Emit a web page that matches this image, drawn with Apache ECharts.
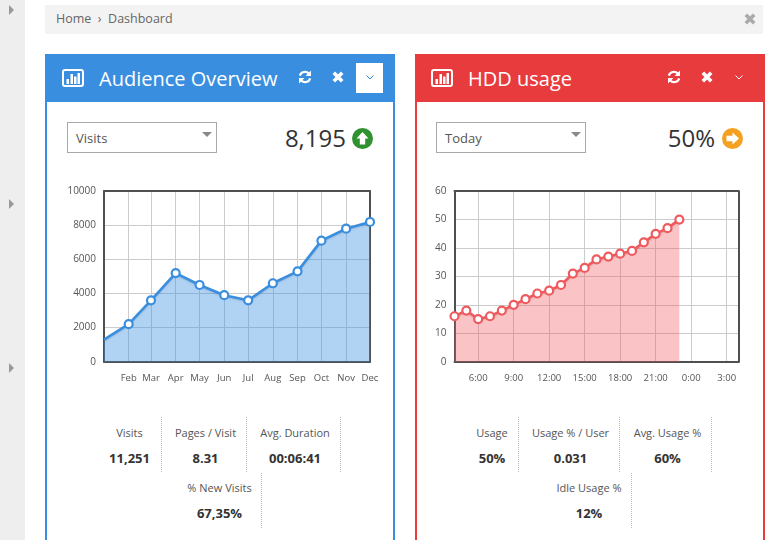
<!DOCTYPE html>
<html><head><meta charset="utf-8">
<script src="https://cdn.jsdelivr.net/npm/echarts@6/dist/echarts.min.js"></script>
<style>
html,body{margin:0;padding:0;width:782px;height:540px;overflow:hidden;background:#fff;font-family:"Open Sans",sans-serif;color:#444}
.a{position:absolute;white-space:nowrap}
.panel{position:absolute;top:54px;width:346px;height:500px;border:2px solid}
.head{position:absolute;top:54px;width:350px;height:48px}
.title{position:absolute;top:65px;font-size:20px;line-height:28px;color:#fff}
.sel{position:absolute;top:122px;width:148px;height:29px;border:1px solid #a9a9a9;font-size:13px;line-height:31px;color:#555;text-indent:8px}
.tri{position:absolute;top:132px;width:0;height:0;border-left:5px solid transparent;border-right:5px solid transparent;border-top:5px solid #888}
.big{position:absolute;top:121px;font-size:24px;line-height:34px;color:#333;text-align:right}
.lab{font-size:11px;line-height:16px;color:#555;transform:translateX(-50%)}
.val{font-size:13px;line-height:18px;font-weight:700;color:#333;transform:translateX(-50%)}
.dot{position:absolute;width:0;border-left:1px dotted #bbb}
.chart{position:absolute;top:180px;width:330px;height:210px}
svg{position:absolute;overflow:visible}
</style></head><body>
<div class="a" style="left:0;top:0;width:25px;height:540px;background:#eee"></div>
<div class="a" style="left:45px;top:5px;width:718px;height:29px;background:#f3f3f3"></div>
<div class="a" style="left:56px;top:10px;font-size:12.5px;line-height:18px;color:#666">Home&nbsp;&nbsp;›&nbsp;&nbsp;Dashboard</div>
<div id="chrome"></div>
<div id="c1" class="chart" style="left:60px"></div>
<div id="c2" class="chart" style="left:430px"></div>
<script>
// Audience Overview data
const visitDates = ['2023-01-01','2023-02-01','2023-03-01','2023-04-01','2023-05-01','2023-06-01','2023-07-01','2023-08-01','2023-09-01','2023-10-01','2023-11-01','2023-12-01'];
const visitValues = [1300,2200,3600,5200,4500,3900,3600,4600,5300,7100,7800,8195];
const monthLabels = ['','Feb','Mar','Apr','May','Jun','Jul','Aug','Sep','Oct','Nov','Dec'];
// HDD usage data
const usageHours = [4,5,6,7,8,9,10,11,12,13,14,15,16,17,18,19,20,21,22,23];
const usageValues = [16,18,15,16,18,20,22,24,25,27,31,33,36,37,38,39,42,45,47,50];
const hourTicks = [6,9,12,15,18,21,24,27];
// Summary stats
const audienceStats = [['Visits','11,251',129.5,433],['Pages / Visit','8.31',205.5,433],['Avg. Duration','00:06:41',295,433],['% New Visits','67,35%',219.5,488]];
const usageStats = [['Usage','50%',492,433],['Usage % / User','0.031',570.5,433],['Avg. Usage %','60%',667.5,433],['Idle Usage %','12%',589,488]];

const BLUE='#3a8ee0', RED='#e83b3d';
let h='';
const add=s=>h+=s;
function icon(x,c){return `<svg style="left:${x}px;top:69px" width="22" height="18" viewBox="0 0 22 18"><rect x="1" y="1" width="20" height="16" rx="2" fill="none" stroke="#fff" stroke-width="2"/><rect x="4.5" y="10" width="2.5" height="5" fill="#fff"/><rect x="8.5" y="5" width="2.5" height="10" fill="#fff"/><rect x="12" y="7.5" width="2.5" height="7.5" fill="#fff"/><rect x="15.5" y="4" width="2.5" height="11" fill="#fff"/></svg>`}
function refresh(x){return `<svg style="left:${x-7}px;top:70px" width="14" height="14" viewBox="0 0 14 14"><path d="M1.8 5.6A5.3 5.3 0 0 1 10.8 3.6" fill="none" stroke="#fff" stroke-width="2.2"/><path d="M13 0.6V6H7.6Z" fill="#fff"/><path d="M12.2 8.4A5.3 5.3 0 0 1 3.2 10.4" fill="none" stroke="#fff" stroke-width="2.2"/><path d="M1 13.4V8H6.4Z" fill="#fff"/></svg>`}
function cross(x,y,col,s){s=s||4;return `<svg style="left:${x-s}px;top:${y-s}px" width="${2*s}" height="${2*s}" viewBox="0 0 8 8"><path d="M1.2 1.2L6.8 6.8M6.8 1.2L1.2 6.8" stroke="${col}" stroke-width="2.4"/></svg>`}
function chev(x,col){return `<svg style="left:${x-4}px;top:75px" width="8" height="5" viewBox="0 0 8 5"><path d="M0.5 0.5L4 4L7.5 0.5" fill="none" stroke="${col}" stroke-width="1"/></svg>`}
function arrowUp(x){return `<svg style="left:${x-10.5}px;top:128px" width="21" height="21" viewBox="0 0 21 21"><circle cx="10.5" cy="10.5" r="10.5" fill="#2f9130"/><path d="M10.5 4L16.5 10.5H13.2V16.5H7.8V10.5H4.5Z" fill="#fff"/></svg>`}
function arrowRight(x){return `<svg style="left:${x-10.5}px;top:128px" width="21" height="21" viewBox="0 0 21 21"><circle cx="10.5" cy="10.5" r="10.5" fill="#f4a122"/><path d="M17 10.5L10.5 16.5V13.2H4.5V7.8H10.5V4.5Z" fill="#fff"/></svg>`}
[10,204,368].forEach(y=>add(`<div class="a" style="left:9px;top:${y-5}px;width:0;height:0;border-top:5px solid transparent;border-bottom:5px solid transparent;border-left:5px solid #999"></div>`));
add(cross(750,19,'#aaa',6));
add(`<div class="panel" style="left:45px;border-color:${BLUE}"></div><div class="head" style="left:45px;background:${BLUE}"></div>`);
add(`<div class="panel" style="left:415px;border-color:${RED}"></div><div class="head" style="left:415px;background:${RED}"></div>`);
add(icon(62)+`<div class="title" style="left:99px">Audience Overview</div>`+refresh(305)+cross(338,77,'#fff',6));
add(`<div class="a" style="left:356px;top:63px;width:27px;height:30px;background:#fff"></div>`+chev(369.5,BLUE));
add(icon(431)+`<div class="title" style="left:468px">HDD usage</div>`+refresh(674)+cross(707,77,'#fff',6)+chev(738.5,'#fff'));
add(`<div class="sel" style="left:67px">Visits</div><div class="tri" style="left:202px"></div>`);
add(`<div class="sel" style="left:436px">Today</div><div class="tri" style="left:571px"></div>`);
add(`<div class="big" style="right:436px">8,195</div>`+arrowUp(362.5));
add(`<div class="big" style="right:67px">50%</div>`+arrowRight(732));
[...audienceStats,...usageStats].forEach(s=>{
  add(`<div class="a lab" style="left:${s[2]}px;top:${s[3]-8}px">${s[0]}</div>`);
  add(`<div class="a val" style="left:${s[2]}px;top:${s[3]+16}px">${s[1]}</div>`);
});
[[161,417],[246,417],[340,417],[261,473],[518,417],[619,417],[711,417],[631,473]].forEach(d=>add(`<div class="dot" style="left:${d[0]}px;top:${d[1]}px;height:55px"></div>`));
document.getElementById('chrome').innerHTML=h;

const axisText={color:'#555',fontSize:10,fontFamily:'"Open Sans",sans-serif'};
const split={show:true,lineStyle:{color:'#cccccc',width:1}};
const frame={show:true,onZero:false,lineStyle:{color:'#505050',width:2}};
function series(data,color,area){return {type:'line',data,smooth:false,symbol:'circle',symbolSize:8,showSymbol:true,clip:false,
  lineStyle:{color,width:2.6,shadowColor:'rgba(0,0,0,0.12)',shadowBlur:2,shadowOffsetY:1},
  itemStyle:{color:'#fff',borderColor:color,borderWidth:2.2},
  areaStyle:{color:area,opacity:1},animation:false,z:3}}
function grid(l,r){return {left:l,width:r-l,top:11.2,height:170.5,show:false}}
function xAxes(min,max,ticks,labels,fmt){return [
  {type:'value',min,max,axisLine:frame,axisTick:{show:false,customValues:ticks},splitLine:split,
   axisLabel:{...axisText,fontSize:9.5,margin:12,hideOverlap:false,customValues:labels,formatter:fmt}},
  {type:'value',min,max,position:'top',axisLine:frame,axisTick:{show:false},axisLabel:{show:false},splitLine:{show:false}}]}
function yAxes(max,interval){return [
  {type:'value',min:0,max,interval,axisLine:frame,axisTick:{show:false},splitLine:split,
   axisLabel:{...axisText,margin:8,padding:[2,0,0,0],formatter:v=>String(v)}},
  {type:'value',min:0,max,interval,position:'right',axisLine:frame,axisTick:{show:false},axisLabel:{show:false},splitLine:{show:false}}]}

const ts=visitDates.map(d=>new Date(d+'T00:00:00').getTime());
const visitPoints=ts.map((t,i)=>i===0?{value:[t,visitValues[i]],symbol:'none'}:[t,visitValues[i]]);
echarts.init(document.getElementById('c1')).setOption({animation:false,
  grid:grid(44,310),
  xAxis:xAxes(ts[0],ts[ts.length-1],ts,ts.slice(1),v=>monthLabels[ts.indexOf(+v)]),
  yAxis:yAxes(10000,2000),
  series:[series(visitPoints,BLUE,'rgba(58,142,224,0.4)')]
});
echarts.init(document.getElementById('c2')).setOption({animation:false,
  grid:grid(24.5,308.5),
  xAxis:xAxes(4,28,hourTicks,hourTicks,v=>(v%24)+':00'),
  yAxis:yAxes(60,10),
  series:[series(usageHours.map((t,i)=>[t,usageValues[i]]),'#ee5a5e','rgba(240,90,95,0.36)')]
});
</script></body></html>
